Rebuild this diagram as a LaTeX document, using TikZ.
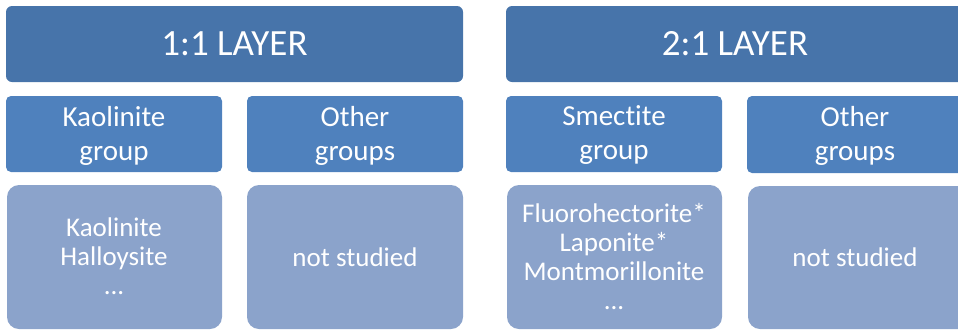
\documentclass[tikz,border=0pt]{standalone}
\usepackage{fontspec}
\setmainfont[Ligatures=NoCommon]{Carlito}
\definecolor{topc}{HTML}{4774AA}
\definecolor{midc}{HTML}{4F81BD}
\definecolor{botc}{HTML}{8BA3CB}
\begin{document}
\begin{tikzpicture}[x=1pt,y=-1pt,
  topbox/.style={fill=topc,draw=none,rounded corners=6pt},
  midbox/.style={fill=midc,draw=none,rounded corners=5pt},
  botbox/.style={fill=botc,draw=none,rounded corners=12pt},
  toptext/.style={text=white,font=\fontsize{37}{44}\selectfont},
  midtext/.style={text=white,align=center,font=\fontsize{29}{34}\selectfont},
  bottext/.style={text=white,align=center,font=\fontsize{27}{29}\selectfont}]
\useasboundingbox (0,0) rectangle (958,330);
\clip (0,0) rectangle (958,330);
% top
\draw[topbox] (6,6) rectangle (463,82);
\draw[topbox] (506,6) rectangle (972,82);
\node[toptext] (t1) at (234.5,44) {1:1 LAYER};
\node[toptext] (t2) at (735,44) {2:1 LAYER};
% mid
\draw[midbox] (6,96) rectangle (222,172);
\draw[midbox] (247,96) rectangle (463,172);
\draw[midbox] (506,96) rectangle (722,172);
\draw[midbox] (747,96) rectangle (972,173);
\node[midtext] (m1) at (114,135.5) {Kaolinite\\group};
\node[midtext] (m2) at (355,135.5) {Other\\groups};
\node[midtext] (m3) at (614,135.5) {Smectite\\group};
\node[midtext] (m4) at (855,135.5) {Other\\groups};
% bottom
\draw[botbox] (7,185) rectangle (222,329);
\draw[botbox] (247,185) rectangle (463,329);
\draw[botbox] (507,185) rectangle (722,329);
\draw[botbox] (748,186) rectangle (972,329);
\node[bottext] (b1) at (114,256) {Kaolinite\\Halloysite\\...};
\node[bottext] (b2) at (355,257) {not studied};
\node[bottext] (b3) at (614,257) {Fluorohectorite*\\Laponite*\\Montmorillonite\\...};
\node[bottext] (b4) at (855,257) {not studied};
\end{tikzpicture}
\end{document}
